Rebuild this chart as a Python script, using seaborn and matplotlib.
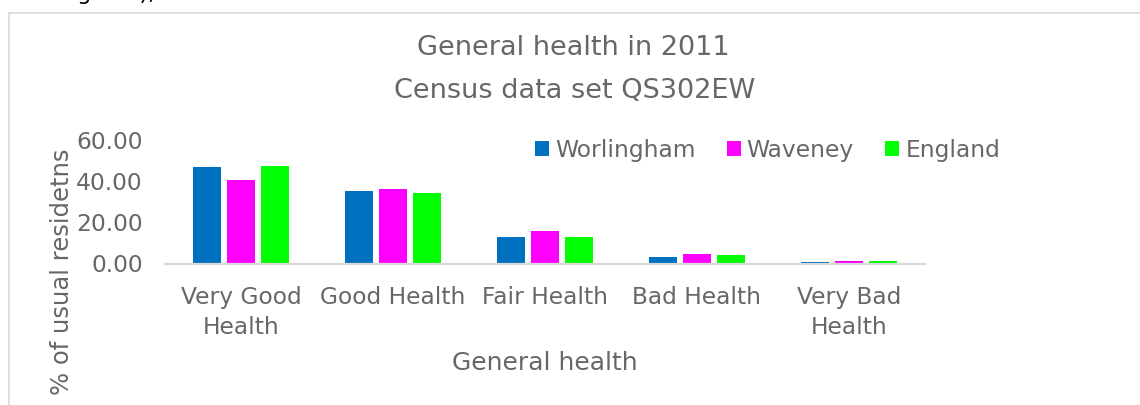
import matplotlib
matplotlib.use('Agg')
import matplotlib.pyplot as plt
from matplotlib.lines import Line2D
from matplotlib.ticker import FormatStrFormatter
import seaborn as sns
import pandas as pd

# =============================================================================
# Data
# =============================================================================
categories = ['Very Good\nHealth', 'Good Health', 'Fair Health', 'Bad Health', 'Very Bad\nHealth']
areas = ['Worlingham', 'Waveney', 'England']
worlingham = [47.0, 35.4, 12.8, 3.2, 0.7]
waveney = [40.7, 36.0, 16.0, 4.8, 1.3]
england = [47.2, 34.2, 13.0, 4.1, 1.1]
colors = ['#0070C0', '#FF00FF', '#00FF00']

df = pd.DataFrame({
    'Health': categories * 3,
    'Area': [a for a in areas for _ in categories],
    'Percent': worlingham + waveney + england,
})

# =============================================================================
# Figure
# =============================================================================
sns.set_theme(style='white')
plt.rcParams['font.family'] = ['DejaVu Sans']
text_col = '#676767'
grid_col = '#D9D9D9'
FS = 16.8

W, H = 1140, 405
fig = plt.figure(figsize=(W / 100, H / 100), dpi=100)
ax = fig.add_axes([165 / W, (H - 263.5) / H, 760 / W, 123.5 / H])

sns.barplot(data=df, x='Health', y='Percent', hue='Area', order=categories,
            hue_order=areas, palette=colors, width=0.67, gap=0.2,
            saturation=1, linewidth=0, ax=ax)

ax.set_ylim(0, 60)
ax.set_xlim(-0.5, len(categories) - 0.5)
ax.set_yticks([0, 20, 40, 60])
ax.yaxis.set_major_formatter(FormatStrFormatter('%.2f'))
ax.tick_params(axis='y', length=0, pad=16, labelsize=FS, labelcolor=text_col)
ax.tick_params(axis='x', length=0, pad=16, labelsize=FS, labelcolor=text_col)
for lab in ax.get_xticklabels():
    lab.set_linespacing(1.4)

sns.despine(ax=ax, left=True)
ax.spines['bottom'].set_color(grid_col)
ax.spines['bottom'].set_linewidth(1.6)
ax.set_xlabel('')
ax.set_ylabel('')

# axis titles
fig.text(545 / W, (H - 363) / H, 'General health', ha='center', va='center',
         fontsize=18, color=text_col)
fig.text(62 / W, (H - 272) / H, '% of usual residetns', ha='center', va='center',
         rotation=90, fontsize=17.5, color=text_col)

# chart title
fig.text(573 / W, (H - 48) / H, 'General health in 2011', ha='center', va='center',
         fontsize=19.5, color=text_col)
fig.text(575 / W, (H - 91) / H, 'Census data set QS302EW', ha='center', va='center',
         fontsize=19.5, color=text_col)

# legend
leg = ax.legend(loc='center left', bbox_to_anchor=(535 / W, (H - 150) / H),
                bbox_transform=fig.transFigure, ncol=3, frameon=False,
                fontsize=FS, handlelength=0.6, handleheight=0.6,
                handletextpad=0.25, columnspacing=1.35, borderaxespad=0,
                borderpad=0)
for t in leg.get_texts():
    t.set_color(text_col)

# chart area border (top and left edges visible)
fig.add_artist(Line2D([8.5 / W, 8.5 / W], [0, (H - 13) / H], color=grid_col, lw=1.2))
fig.add_artist(Line2D([8.5 / W, 1], [(H - 13) / H, (H - 13) / H], color=grid_col, lw=1.2))

# fragment of surrounding document text, mostly above the frame
fig.text(50 / W, 1.0, 'England),', ha='left', va='baseline', fontsize=16, color='black')

fig.savefig('out.png', dpi=100)
